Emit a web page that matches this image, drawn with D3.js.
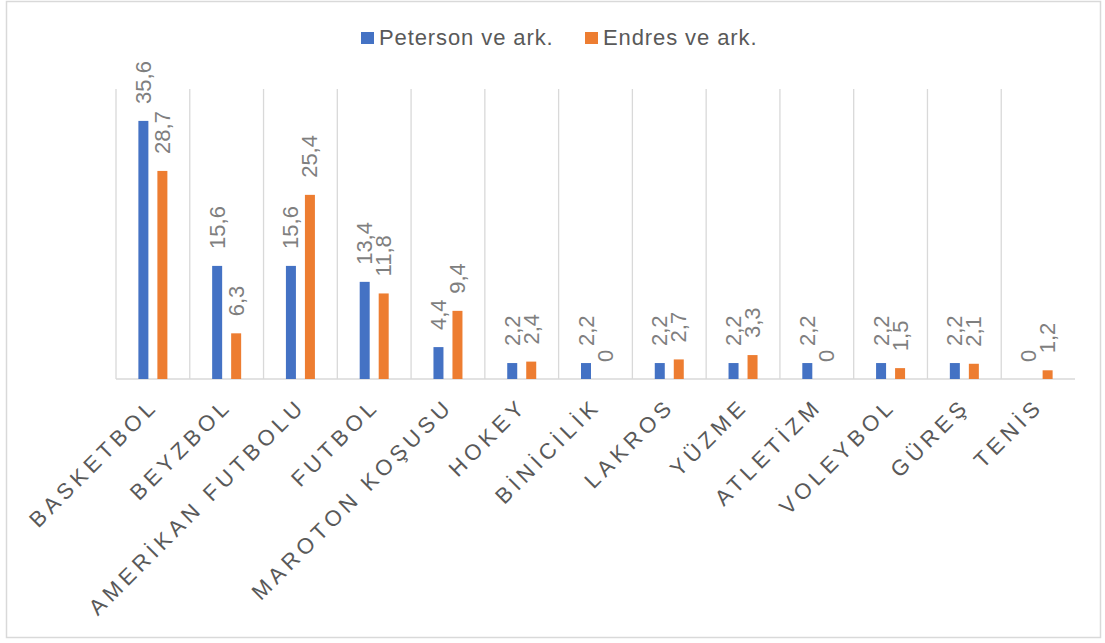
<!DOCTYPE html>
<html><head><meta charset="utf-8">
<script src="https://cdn.jsdelivr.net/npm/d3@7"></script>
<style>body{margin:0;background:#fff}svg{display:block;font-family:Arial,"Liberation Sans",sans-serif}</style>
</head><body>
<script>
const categories = ["BASKETBOL","BEYZBOL","AMERİKAN FUTBOLU","FUTBOL","MAROTON KOŞUSU","HOKEY","BİNİCİLİK","LAKROS","YÜZME","ATLETİZM","VOLEYBOL","GÜREŞ","TENİS"];
const peterson = [35.6,15.6,15.6,13.4,4.4,2.2,2.2,2.2,2.2,2.2,2.2,2.2,0];
const endres = [28.7,6.3,25.4,11.8,9.4,2.4,0,2.7,3.3,0,1.5,2.1,1.2];
const seriesNames = ["Peterson ve ark.","Endres ve ark."];
const colors = ["#4472C4","#ED7D31"];

const W=1105,H=643;
const svg=d3.select("body").append("svg").attr("width",W).attr("height",H);
svg.append("rect").attr("x",6.5).attr("y",1.5).attr("width",1094).attr("height",636).attr("fill","#fff").attr("stroke","#d9d9d9").attr("stroke-width",1.5);

const pLeft=116,pRight=1075,pTop=89,pBase=379;
const x=d3.scaleBand().domain(categories).range([pLeft,pRight]).paddingInner(0).paddingOuter(0);
const y=d3.scaleLinear().domain([0,40]).range([pBase,pTop]);
const bw=10, off=9.5;

// gridlines (category boundaries)
const g=svg.append("g");
categories.forEach(c=>{
  g.append("line").attr("x1",x(c)).attr("x2",x(c)).attr("y1",pTop).attr("y2",pBase).attr("stroke","#d9d9d9").attr("stroke-width",1.3);
});
g.append("line").attr("x1",pLeft).attr("x2",pRight).attr("y1",pBase).attr("y2",pBase).attr("stroke","#d9d9d9").attr("stroke-width",1.5);

const data=[peterson,endres];
data.forEach((vals,si)=>{
  const dx = si===0 ? -off : off;
  svg.append("g").selectAll("rect").data(vals).join("rect")
    .attr("x",(d,i)=>x(categories[i])+x.bandwidth()/2+dx-bw/2)
    .attr("y",d=>y(d)).attr("width",bw).attr("height",d=>pBase-y(d))
    .attr("fill",colors[si]);
  svg.append("g").selectAll("text").data(vals).join("text")
    .attr("transform",(d,i)=>{
      const cx=x(categories[i])+x.bandwidth()/2+dx;
      return `translate(${cx+7.5},${y(d)-17}) rotate(-90)`;
    })
    .attr("font-size",22).attr("fill","#7f7f7f")
    .text(d=>String(d).replace(".",","));
});

// x labels
svg.append("g").selectAll("text").data(categories).join("text")
  .attr("transform",c=>`translate(${x(c)+x.bandwidth()/2+6.5},${407.5}) rotate(-45)`)
  .attr("text-anchor","end").attr("font-size",22).attr("letter-spacing","4.5px")
  .attr("fill","#595959").text(c=>c);

// legend
const leg=svg.append("g");
const lx=[361,585];
seriesNames.forEach((n,i)=>{
  leg.append("rect").attr("x",lx[i]).attr("y",32).attr("width",13).attr("height",12).attr("fill",colors[i]);
  leg.append("text").attr("x",lx[i]+18).attr("y",45).attr("font-size",22).attr("letter-spacing","0.9px").attr("fill","#595959").text(n);
});
</script>
</body></html>
